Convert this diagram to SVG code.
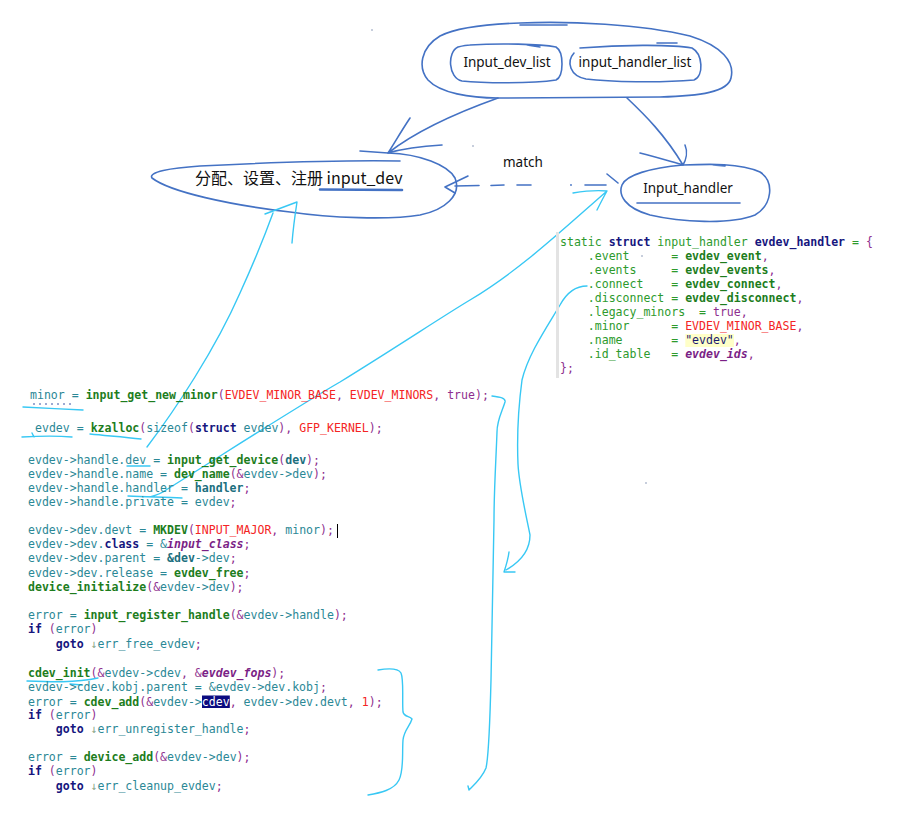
<svg xmlns="http://www.w3.org/2000/svg" width="899" height="815" viewBox="0 0 899 815">
<style>
.bl{fill:none;stroke:#4472c4;stroke-width:1.6;stroke-linecap:round;stroke-linejoin:round}
.cy{fill:none;stroke:#38c8f4;stroke-width:1.4;stroke-linecap:round;stroke-linejoin:round}
.lbl{font-family:"Noto Sans","Liberation Sans",sans-serif;font-size:13.5px;fill:#111}
.cjk{font-family:"Noto Sans CJK SC","Noto Sans",sans-serif;font-size:16px;fill:#111}
.code{font-family:"DejaVu Sans Mono","Liberation Mono",monospace;font-size:11.55px;fill:#2b8896;white-space:pre}
.f{fill:#1d7d1d;font-weight:bold}
.k{fill:#16167e;font-weight:bold}
.m{fill:#f42424}
.p{fill:#8e2e8e}
.i{fill:#7b1f86;font-weight:bold;font-style:italic}
.b{fill:#1c6f7e;font-weight:bold}
.g{fill:#2d9a2d}
.s{fill:#1a1a70}
.a{fill:#8aa88a}
.w{fill:#ffffff}
.dot{fill:#8090b0}
</style>
<rect width="899" height="815" fill="#ffffff"/>

<g id="node-lists">
<path class="bl" d="M498,98 C470,98 440,93 428,80 C418,68 420,48 440,36 C458,27 490,24 520,23 C570,21 640,24 690,36 C722,46 735,62 731,78 C728,92 700,96 660,97 L498,98"/>
<path class="bl" d="M520,25 L567,25"/>
</g>
<g id="node-input-dev-list">
<path class="bl" d="M470,45 C500,43 540,44 556,47 C564,52 564,76 556,80 C530,84 480,83 462,81 C448,78 447,52 458,47 C462,46 466,45 470,45 M527,45 L540,47"/>
<text class="lbl" x="507" y="67" text-anchor="middle">Input_dev_list</text>
</g>
<g id="node-input-handler-list">
<path class="bl" d="M580,48 C620,45 670,44 692,48 C703,54 704,76 694,80 C660,83 610,82 586,79 C570,76 566,62 574,53 M657,43 L677,43"/>
<text class="lbl" x="635" y="67" text-anchor="middle">input_handler_list</text>
</g>

<g id="node-input-dev">
<path class="bl" d="M360,151 L388,153 C420,154 448,165 455,178 C462,195 445,210 420,215 C390,220 330,218 290,212 C230,205 170,192 152,178 C148,172 170,168 200,166 C260,163 340,160 400,161"/>
<text class="cjk" x="195" y="184">分配、设置、注册 input_dev</text>
<path d="M320,189.5 L402,190" fill="none" stroke="#4472c4" stroke-width="2.6" stroke-linecap="round"/>
</g>

<g id="node-input-handler">
<path class="bl" d="M683,165 C710,164 740,163 760,172 C775,182 772,205 755,215 C730,225 680,222 650,215 C625,208 618,195 622,185 C626,175 650,168 683,165 M713,165 L725,166"/>
<text class="lbl" x="688" y="193" text-anchor="middle" font-size="14">Input_handler</text>
<path class="bl" d="M637,203 L740,203"/>
</g>

<g id="connectors">
<path class="bl" d="M498,98 C470,108 420,128 388,153 M410,118 C402,130 395,142 388,153 M388,153 C405,148 425,146 442,145"/>
<path class="bl" d="M627,98 C645,115 665,135 683,165 M640,153 C660,158 672,162 683,165 M685,145 C688,152 686,160 683,165"/>
<path class="bl" d="M455,186 L479,185.5 M491,185.5 L504,185 M517,185 L531,185 M585,185 L606,185 M468,176 L445,187 L455,193 M607,174 L618,183"/>
<circle cx="571" cy="185" r="0.9" fill="#4472c4"/>
<text class="lbl" x="503" y="167" font-size="15">match</text>

<path class="cy" d="M147,447 C175,410 215,350 240,293 C255,260 265,235 273,213 M265,214 L297,202 C295,215 293,230 292,243"/>
<path class="cy" d="M127,466 L150,466"/>
<path class="cy" d="M128,496 C150,497 165,497 182,498 M150,497 C157,495 162,493 166,490 C230,450 300,405 340,382 C400,345 440,318 470,300 C520,270 560,232 607,191 M573,193 C585,191 597,190 607,191 M607,191 C603,198 600,204 597,210"/>
<path class="cy" d="M587,286 C575,286 566,294 560,305 C545,330 528,355 522,380 C518,410 517,440 518,464 C519,485 526,515 530,535 C530,550 520,562 506,570 M509,552 C508,560 506,566 504,572 L515,572"/>
<path class="cy" d="M492,396 C500,397 506,398 505,402 C502,412 497,420 497,432 C496,460 494,490 494,520 C493,580 492,640 491,680 C490,720 489,755 486,768 C482,778 475,784 469,790 L468,786"/>
<path class="cy" d="M378,670 C390,668 398,668 401,673 C404,680 402,700 403,712 C404,717 410,716 412,719 C410,726 404,730 403,740 C402,755 404,770 399,780 C394,790 380,793 368,795"/>
<path class="cy" d="M23,407 C40,408 65,409 83,410"/>
<path class="cy" d="M22,437 C40,436 60,436 72,437 M32,433 L34,437"/>
<path class="cy" d="M90,434 C110,436 125,437 141,439"/>
<path class="cy" d="M27,681 C50,682 75,683 98,678 M70,684 L82,685"/>
</g>

<g id="node-code-main">
<line x1="33" y1="404" x2="72" y2="404" stroke="#3a55a5" stroke-width="1" stroke-dasharray="2 4"/>
<rect x="202" y="695.5" width="27.8" height="12.5" fill="#0b0b80"/>
<line x1="337.5" y1="524" x2="337.5" y2="538" stroke="#000" stroke-width="1"/>
<text class="code" xml:space="preserve" x="30" y="399">minor = <tspan class="f">input_get_new_minor</tspan><tspan class="p">(</tspan><tspan class="m">EVDEV_MINOR_BASE</tspan><tspan class="p">, </tspan><tspan class="m">EVDEV_MINORS</tspan><tspan class="p">, true);</tspan></text>
<text class="code" xml:space="preserve" x="35" y="432">evdev = <tspan class="f">kzalloc</tspan><tspan class="p">(</tspan>sizeof<tspan class="p">(</tspan><tspan class="k">struct</tspan> evdev<tspan class="p">), </tspan><tspan class="m">GFP_KERNEL</tspan><tspan class="p">);</tspan></text>
<text class="code" xml:space="preserve" x="28" y="464">evdev-&gt;handle.dev = <tspan class="f">input_get_device</tspan><tspan class="p">(</tspan><tspan class="b">dev</tspan><tspan class="p">);</tspan></text>
<text class="code" xml:space="preserve" x="28" y="478">evdev-&gt;handle.name = <tspan class="f">dev_name</tspan><tspan class="p">(&amp;</tspan>evdev-&gt;dev<tspan class="p">);</tspan></text>
<text class="code" xml:space="preserve" x="28" y="492">evdev-&gt;handle.handler = <tspan class="b">handler</tspan><tspan class="p">;</tspan></text>
<text class="code" xml:space="preserve" x="28" y="506">evdev-&gt;handle.private = evdev<tspan class="p">;</tspan></text>
<text class="code" xml:space="preserve" x="28" y="534">evdev-&gt;dev.devt = <tspan class="f">MKDEV</tspan><tspan class="p">(</tspan><tspan class="m">INPUT_MAJOR</tspan><tspan class="p">, </tspan>minor<tspan class="p">);</tspan></text>
<text class="code" xml:space="preserve" x="28" y="548">evdev-&gt;dev.<tspan class="k">class</tspan> = &amp;<tspan class="i">input_class</tspan><tspan class="p">;</tspan></text>
<text class="code" xml:space="preserve" x="28" y="562">evdev-&gt;dev.parent = <tspan class="b">&amp;dev</tspan>-&gt;dev<tspan class="p">;</tspan></text>
<text class="code" xml:space="preserve" x="28" y="577">evdev-&gt;dev.release = <tspan class="f">evdev_free</tspan><tspan class="p">;</tspan></text>
<text class="code" xml:space="preserve" x="28" y="591"><tspan class="f">device_initialize</tspan><tspan class="p">(&amp;</tspan>evdev-&gt;dev<tspan class="p">);</tspan></text>
<text class="code" xml:space="preserve" x="28" y="619">error = <tspan class="f">input_register_handle</tspan><tspan class="p">(&amp;</tspan>evdev-&gt;handle<tspan class="p">);</tspan></text>
<text class="code" xml:space="preserve" x="28" y="633"><tspan class="k">if</tspan> <tspan class="p">(</tspan>error<tspan class="p">)</tspan></text>
<text class="code" xml:space="preserve" x="28" y="648">    <tspan class="k">goto</tspan> <tspan class="a">↓</tspan>err_free_evdev<tspan class="p">;</tspan></text>
<text class="code" xml:space="preserve" x="28" y="677"><tspan class="f">cdev_init</tspan><tspan class="p">(&amp;</tspan>evdev-&gt;cdev<tspan class="p">, &amp;</tspan><tspan class="i">evdev_fops</tspan><tspan class="p">);</tspan></text>
<text class="code" xml:space="preserve" x="28" y="691">evdev-&gt;cdev.kobj.parent = &amp;evdev-&gt;dev.kobj<tspan class="p">;</tspan></text>
<text class="code" xml:space="preserve" x="28" y="706">error = <tspan class="f">cdev_add</tspan><tspan class="p">(&amp;</tspan>evdev-&gt;<tspan class="w">cdev</tspan><tspan class="p">, </tspan>evdev-&gt;dev.devt<tspan class="p">, </tspan><tspan class="m">1</tspan><tspan class="p">);</tspan></text>
<text class="code" xml:space="preserve" x="28" y="719"><tspan class="k">if</tspan> <tspan class="p">(</tspan>error<tspan class="p">)</tspan></text>
<text class="code" xml:space="preserve" x="28" y="733">    <tspan class="k">goto</tspan> <tspan class="a">↓</tspan>err_unregister_handle<tspan class="p">;</tspan></text>
<text class="code" xml:space="preserve" x="28" y="761">error = <tspan class="f">device_add</tspan><tspan class="p">(&amp;</tspan>evdev-&gt;dev<tspan class="p">);</tspan></text>
<text class="code" xml:space="preserve" x="28" y="775"><tspan class="k">if</tspan> <tspan class="p">(</tspan>error<tspan class="p">)</tspan></text>
<text class="code" xml:space="preserve" x="28" y="790">    <tspan class="k">goto</tspan> <tspan class="a">↓</tspan>err_cleanup_evdev<tspan class="p">;</tspan></text>
</g>

<g id="node-code-handler">
<rect x="556" y="232" width="3" height="146" fill="#e3e3e3"/>
<rect x="685.3" y="334" width="48.7" height="13" fill="#ffffc8"/>
<text class="code" xml:space="preserve" x="560" y="246"><tspan class="g">static </tspan><tspan class="k">struct</tspan><tspan class="g"> input_handler </tspan><tspan class="k">evdev_handler</tspan><tspan class="g"> = </tspan><tspan class="p">{</tspan></text>
<text class="code" xml:space="preserve" x="560" y="260"><tspan class="g">    .event      = </tspan><tspan class="f">evdev_event</tspan><tspan class="p">,</tspan></text>
<text class="code" xml:space="preserve" x="560" y="274"><tspan class="g">    .events     = </tspan><tspan class="f">evdev_events</tspan><tspan class="p">,</tspan></text>
<text class="code" xml:space="preserve" x="560" y="288"><tspan class="g">    .connect    = </tspan><tspan class="f">evdev_connect</tspan><tspan class="p">,</tspan></text>
<text class="code" xml:space="preserve" x="560" y="302"><tspan class="g">    .disconnect = </tspan><tspan class="f">evdev_disconnect</tspan><tspan class="p">,</tspan></text>
<text class="code" xml:space="preserve" x="560" y="316"><tspan class="g">    .legacy_minors  = </tspan><tspan class="p">true,</tspan></text>
<text class="code" xml:space="preserve" x="560" y="330"><tspan class="g">    .minor      = </tspan><tspan class="m">EVDEV_MINOR_BASE</tspan><tspan class="p">,</tspan></text>
<text class="code" xml:space="preserve" x="560" y="344"><tspan class="g">    .name       = </tspan><tspan class="s">"evdev"</tspan><tspan class="p">,</tspan></text>
<text class="code" xml:space="preserve" x="560" y="358"><tspan class="g">    .id_table   = </tspan><tspan class="i">evdev_ids</tspan><tspan class="p">,</tspan></text>
<text class="code" xml:space="preserve" x="560" y="372"><tspan class="p">};</tspan></text>
</g>

<g id="marks">
<circle class="dot" cx="372" cy="30" r="0.8"/>
<circle class="dot" cx="473" cy="146" r="0.8"/>
<circle class="dot" cx="642" cy="256" r="0.8"/>
<circle class="dot" cx="646" cy="483" r="0.8"/>
</g>
</svg>
